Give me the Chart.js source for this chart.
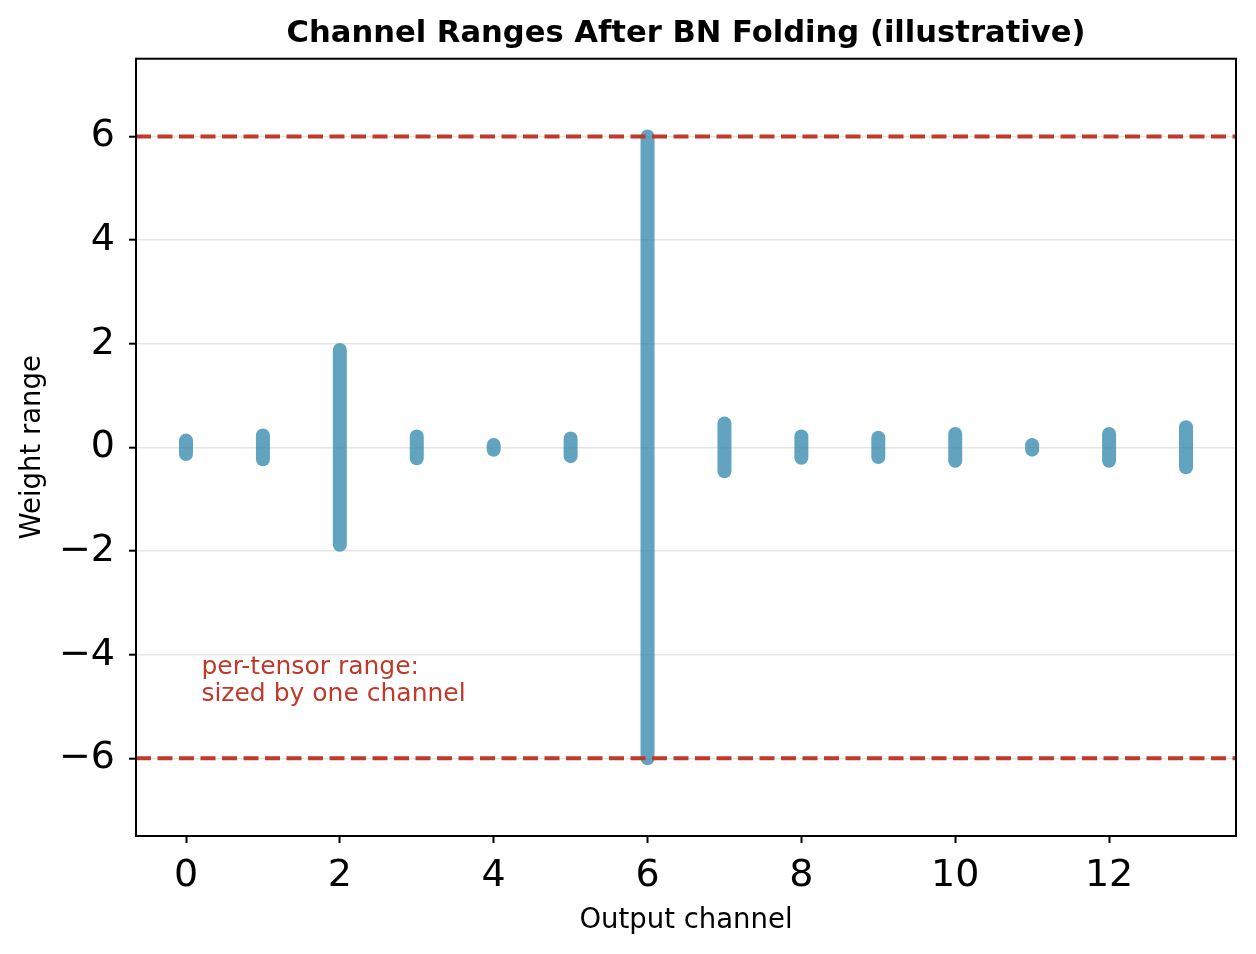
<!DOCTYPE html>
<html>
<head>
<meta charset="utf-8">
<script src="https://cdn.jsdelivr.net/npm/chart.js@4.4.1/dist/chart.umd.min.js"></script>
<style>
  html, body { margin: 0; padding: 0; background: #fff; }
  #wrap { width: 1256px; height: 954px; }
</style>
</head>
<body>
<div id="wrap"><canvas id="rangeChart" width="1256" height="954"></canvas></div>
<script>
// Per-channel weight ranges after folding BN
const channels = [0, 1, 2, 3, 4, 5, 6, 7, 8, 9, 10, 11, 12, 13];
const rangeLow = [-0.13, -0.23, -1.88, -0.21, -0.045, -0.17, -6.0, -0.46, -0.2, -0.185, -0.26, -0.044, -0.26, -0.385];
const rangeHigh = [0.13, 0.23, 1.88, 0.21, 0.045, 0.17, 6.0, 0.46, 0.21, 0.185, 0.26, 0.044, 0.26, 0.39];

// per-tensor clipping range
const tensorMin = -6;
const tensorMax = 6;

const xLimits = [-0.65, 13.65];
const yLimits = [-7.5, 7.5];
const xTicks = [0, 2, 4, 6, 8, 10, 12];
const yTicks = [-6, -4, -2, 0, 2, 4, 6];

const noteLines = ['per-tensor range:', 'sized by one channel'];
const notePos = { x: 0.2, y: -5 };

const BAR_COLOR = 'rgba(46, 134, 171, 0.75)';
const RED = '#c0392b';
const FONT = "'DejaVu Sans', sans-serif";

const fmt = (v) => (v < 0 ? '\u2212' + Math.abs(v) : String(v));

// one vertical segment per channel
const channelSets = channels.map((ch, i) => ({
  data: [{ x: ch, y: rangeLow[i] }, { x: ch, y: rangeHigh[i] }],
  borderColor: BAR_COLOR,
  borderWidth: 14,
  borderCapStyle: 'round',
  pointRadius: 0,
  order: 2
}));

const limitSets = [tensorMax, tensorMin].map((v) => ({
  data: [{ x: xLimits[0], y: v }, { x: xLimits[1], y: v }],
  borderColor: RED,
  borderWidth: 4,
  borderDash: [15, 6.5],
  pointRadius: 0,
  order: 1
}));

// frame around plot area + annotation text
const framePlugin = {
  id: 'frame',
  afterDatasetsDraw(chart) {
    const { ctx, chartArea: a, scales } = chart;
    ctx.save();
    ctx.fillStyle = RED;
    ctx.font = '25px ' + FONT;
    ctx.textAlign = 'left';
    ctx.textBaseline = 'alphabetic';
    const nx = scales.x.getPixelForValue(notePos.x);
    const ny = scales.y.getPixelForValue(notePos.y);
    ctx.fillText(noteLines[0], nx, ny - 32);
    ctx.fillText(noteLines[1], nx, ny - 5);
    ctx.strokeStyle = '#000';
    ctx.lineWidth = 2;
    ctx.strokeRect(a.left, a.top, a.right - a.left, a.bottom - a.top);
    ctx.restore();
  }
};

new Chart(document.getElementById('rangeChart'), {
  type: 'line',
  data: { datasets: [...limitSets, ...channelSets] },
  options: {
    responsive: false,
    devicePixelRatio: 1,
    animation: false,
    layout: { padding: { left: 0, right: 20, top: 0, bottom: 0 } },
    plugins: {
      legend: { display: false },
      tooltip: { enabled: false },
      title: {
        display: true,
        text: 'Channel Ranges After BN Folding (illustrative)',
        color: '#000',
        fullSize: false,
        font: { family: FONT, size: 30.6, weight: 'bold' },
        padding: { top: 16, bottom: 6 }
      }
    },
    scales: {
      x: {
        type: 'linear',
        min: xLimits[0],
        max: xLimits[1],
        afterBuildTicks: (s) => { s.ticks = xTicks.map((v) => ({ value: v })); },
        afterFit: (s) => { s.height = 118; },
        border: { display: false },
        grid: {
          drawOnChartArea: false,
          drawTicks: true,
          tickLength: 7,
          tickColor: '#000',
          tickWidth: 2
        },
        ticks: {
          color: '#000',
          padding: 10,
          maxRotation: 0,
          autoSkip: false,
          font: { family: FONT, size: 38 },
          callback: (v) => fmt(v)
        },
        title: {
          display: true,
          text: 'Output channel',
          color: '#000',
          font: { family: FONT, size: 27.5 },
          padding: { top: 0, bottom: 17 }
        }
      },
      y: {
        type: 'linear',
        min: yLimits[0],
        max: yLimits[1],
        afterBuildTicks: (s) => { s.ticks = yTicks.map((v) => ({ value: v })); },
        afterFit: (s) => { s.width = 136; },
        border: { display: false },
        grid: {
          color: '#e6e6e6',
          lineWidth: 1.4,
          drawTicks: true,
          tickLength: 7,
          tickColor: '#000',
          tickWidth: 2
        },
        ticks: {
          color: '#000',
          padding: 14,
          autoSkip: false,
          font: { family: FONT, size: 38 },
          callback: (v) => fmt(v)
        },
        title: {
          display: true,
          text: 'Weight range',
          color: '#000',
          font: { family: FONT, size: 27.5 },
          padding: { top: 16, bottom: 0 }
        }
      }
    }
  },
  plugins: [framePlugin]
});
</script>
</body>
</html>
